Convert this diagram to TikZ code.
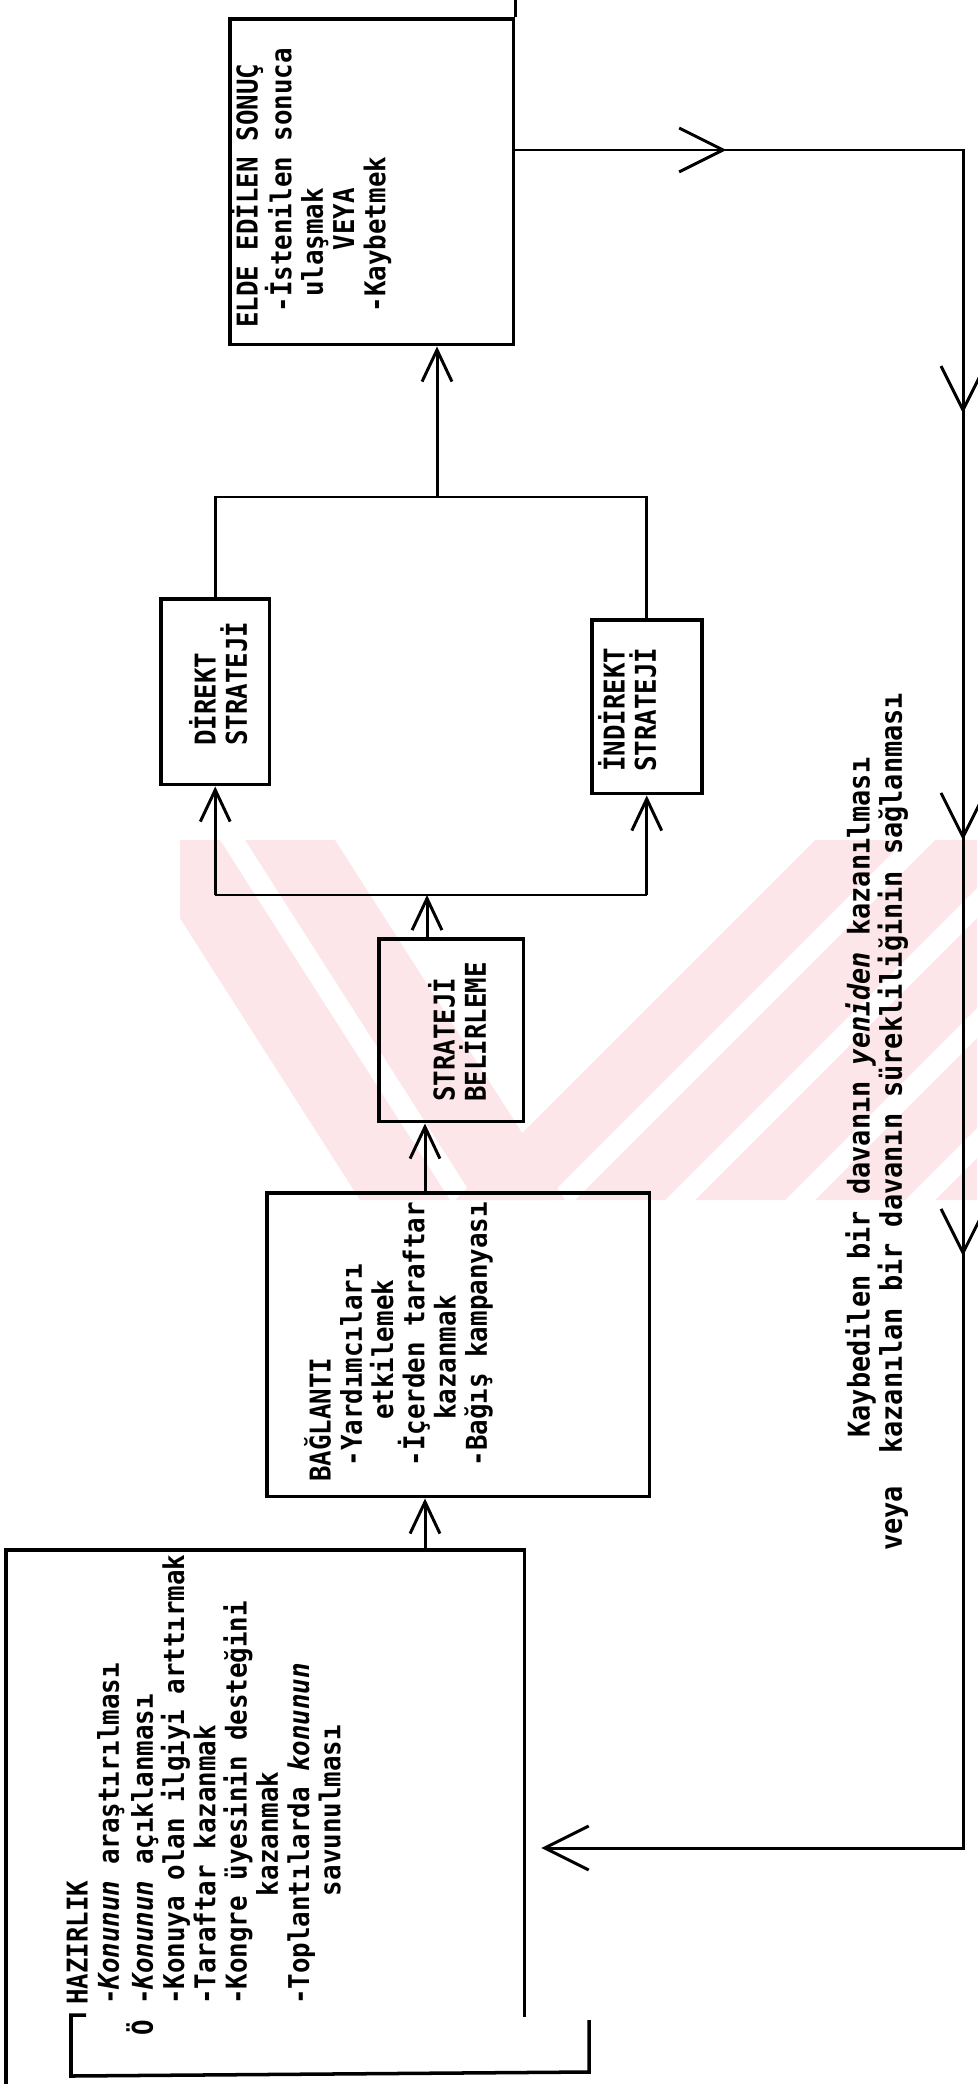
\documentclass[tikz,border=0pt]{standalone}
\usepackage{fontspec}
\usetikzlibrary{arrows.meta,decorations.markings}
\newfontfamily\daktilo[FakeStretch=0.9]{DejaVu Sans Mono}
\newcommand\bos[1]{\hspace*{#1\fontcharwd\font`x}}
\newcommand\ust{\rule{0pt}{0.95em}}
\definecolor{filigran}{HTML}{FCE6EA}
\tikzset{
  kutu/.style={draw, line width=2pt, inner sep=0pt, anchor=north west},
  kutuc/.style={line width=2pt},
  hat/.style={line width=1.7pt},
  yazi/.style={rotate=90, anchor=north west, inner sep=0pt, align=left,
    font=\daktilo\bfseries\fontsize{16.3pt}{17.8pt}\selectfont},
  dyazi/.style={yazi, font=\daktilo\bfseries\fontsize{17pt}{15.3pt}\selectfont},
  Kucuk/.tip={Straight Barb[length=18pt,width=17pt]},
  Buyuk/.tip={Straight Barb[length=25pt,width=25pt]},
}
\begin{document}
\begin{tikzpicture}[x=0.02cm,y=-0.02cm]
  \useasboundingbox (0,0) rectangle (977,2084);
  \begin{scope}
    \clip (180,840) rectangle (977,1200);
    \foreach \a in {130,245} \fill[filigran] (\a,840) -- ++(90,0) -- ++(230,360) -- ++(-90,0) -- cycle;
    \foreach \a in {455,575,695,815,935} \fill[filigran] (\a,1200) -- ++(90,0) -- ++(360,-360) -- ++(-90,0) -- cycle;
  \end{scope}

  \node[kutu, minimum width=5.68cm, minimum height=6.52cm] (elde) at (228,17) {};
  \node[kutu, minimum width=2.18cm, minimum height=3.72cm] (direkt) at (159,597) {};
  \node[kutu, minimum width=2.2cm, minimum height=3.48cm] (indirekt) at (590,618) {};
  \node[kutu, minimum width=2.9cm, minimum height=3.66cm] (strateji) at (377,937) {};
  \node[kutu, minimum width=7.66cm, minimum height=6.08cm] (baglanti) at (265,1191) {};
  \node[kutu, draw=none, minimum width=10.3cm, minimum height=10.68cm] (hazirlik) at (6,1550) {};
  \draw[kutuc] (hazirlik.south west) -- (hazirlik.north west) -- (hazirlik.north east) -- ++(0,467);
  \draw[kutuc] (86,2015) -- (71,2015) -- (71,2076) -- (589,2072) -- (589,2020);
  \coordinate (tepe) at (0,0);
  \draw[kutuc] (elde.north east) -- (elde.north east |- tepe);

  \node[yazi] (eldeYazi) at (230,328) {\ust ELDE EDİLEN SONUÇ\\ \bos{1}-İstenilen sonuca\\ \bos{2}ulaşmak\\ \bos{5}VEYA\\ \bos{1}-Kaybetmek};
  \node[yazi] (direktYazi) at (188,746) {\ust DİREKT\\ STRATEJİ};
  \node[yazi] (indirektYazi) at (597,772) {\ust İNDİREKT\\ STRATEJİ};
  \node[yazi] (stratejiYazi) at (427,1102) {\ust STRATEJİ\\ BELİRLEME};
  \node[yazi] (baglantiYazi) at (303,1482) {\ust BAĞLANTI\\ \bos{1}-Yardımcıları\\ \bos{4}etkilemek\\ \bos{1}-İçerden taraftar\\ \bos{4}kazanmak\\ \bos{1}-Bağış kampanyası};
  \node[yazi] (hazirlikYazi) at (60,2036) {\ust\bos{2}HAZIRLIK\\ \bos{2}-\emph{Konunun} araştırılması\\ Ö -\emph{Konunun} açıklanması\\ \bos{2}-Konuya olan ilgiyi arttırmak\\ \bos{2}-Taraftar kazanmak\\ \bos{2}-Kongre üyesinin desteğini\\ \bos{9}kazanmak\\ \bos{2}-Toplantılarda \emph{konunun}\\ \bos{9}savunulması};
  \node[dyazi] (donguYazi) at (841,1551) {\ust\bos{7}Kaybedilen bir davanın \emph{yeniden} kazanılması\\ veya\bos{2}kazanılan bir davanın sürekliliğinin sağlanması};

  \coordinate (eks) at (425,0);
  \coordinate (cat) at (427,895);
  \coordinate (bir) at (437,497);
  \draw[hat,-{Kucuk}] (hazirlik.north -| eks) -- (baglanti.south -| eks);
  \draw[hat,-{Kucuk}] (baglanti.north -| eks) -- (strateji.south -| eks);
  \draw[hat,-{Kucuk}] (strateji.north -| cat) -- (cat);
  \draw[hat] (direkt.south |- cat) -- (indirekt.south |- cat);
  \draw[hat,-{Kucuk}] (direkt.south |- cat) -- (direkt.south);
  \draw[hat,-{Kucuk}] (indirekt.south |- cat) -- (indirekt.south);
  \draw[hat] (direkt.north) -- (direkt.north |- bir) -- (indirekt.north |- bir) -- (indirekt.north);
  \draw[hat,-{Kucuk}] (bir) -- (elde.south -| bir);

  \coordinate (k1) at (963,150);
  \coordinate (k2) at (963,1848);
  \draw[hat, -{Buyuk}, shorten >=0.34cm, postaction={decorate}, decoration={markings,
      mark=at position 4.22cm with {\arrow{Buyuk}},
      mark=at position 14.22cm with {\arrow{Buyuk}},
      mark=at position 22.76cm with {\arrow{Buyuk}},
      mark=at position 31.08cm with {\arrow{Buyuk}}}]
    (elde.east |- k1) -- (k1) -- (k2) -- (hazirlik.east |- k2);
\end{tikzpicture}
\end{document}
